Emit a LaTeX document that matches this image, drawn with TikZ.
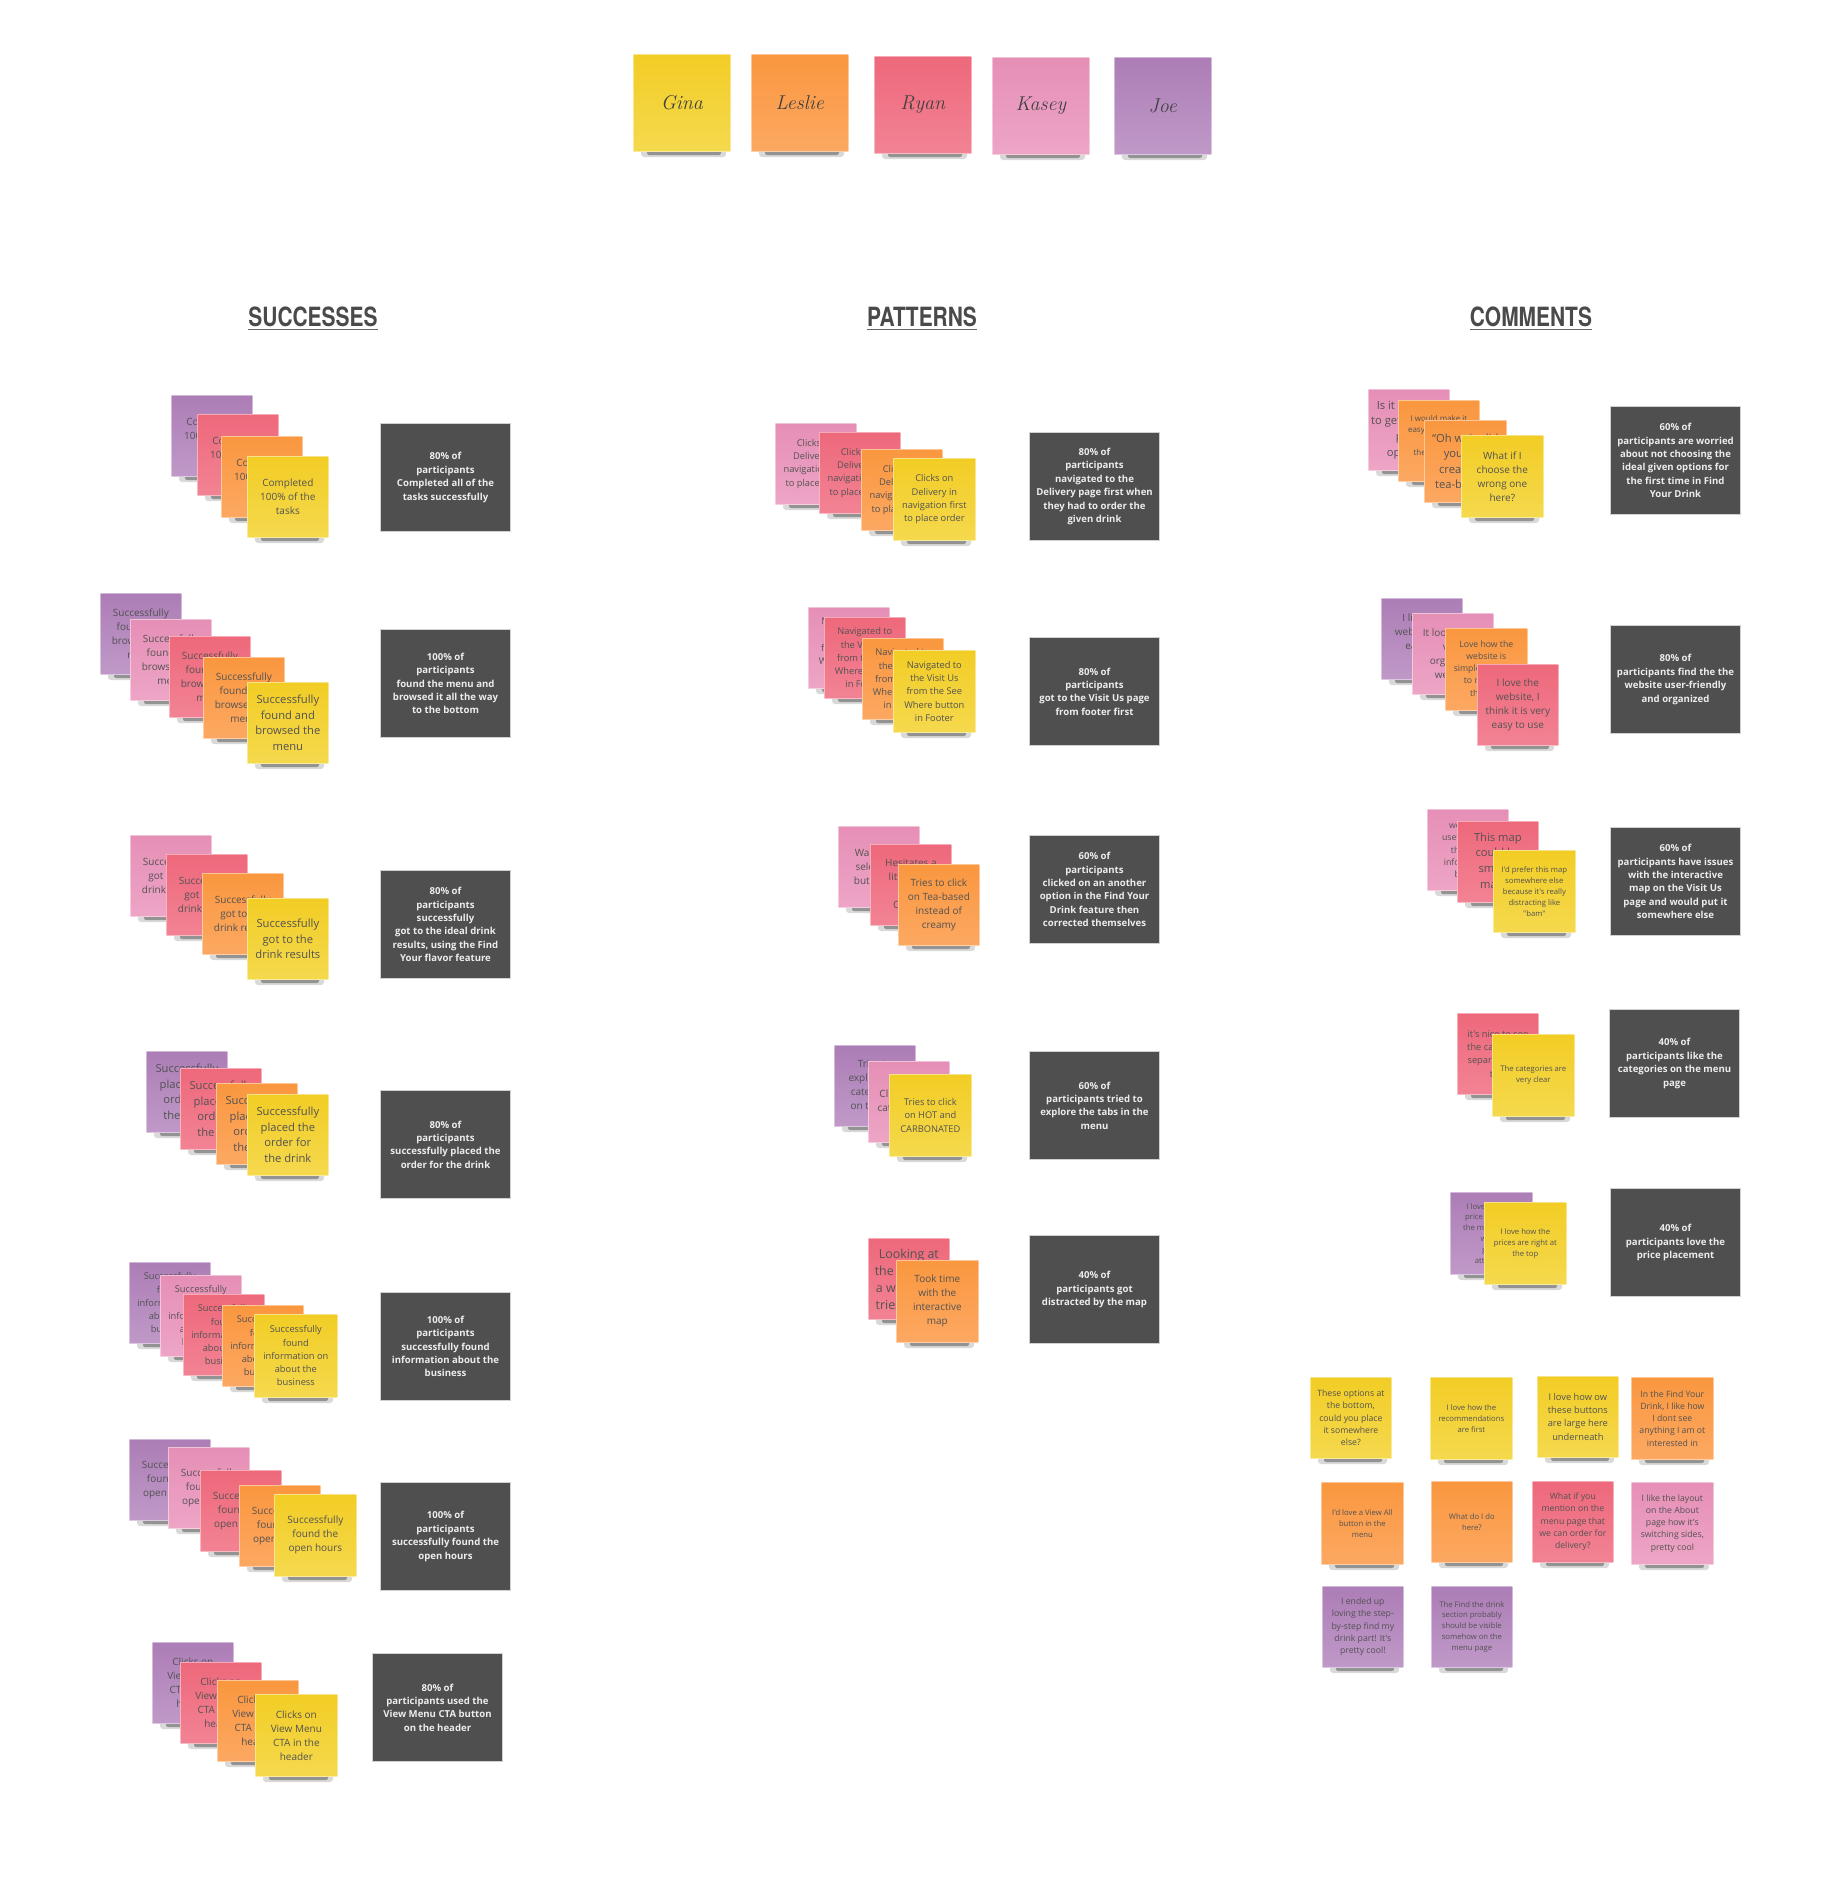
\documentclass[tikz,border=0pt]{standalone}
\usepackage{fontspec}
\newfontfamily\nf{Open Sans}
\newfontfamily\hf{TeX Gyre Heros}
\definecolor{yelT}{HTML}{F2CD25}
\definecolor{yelB}{HTML}{F5D94E}
\definecolor{orgT}{HTML}{FA973F}
\definecolor{orgB}{HTML}{FCA862}
\definecolor{redT}{HTML}{EE687B}
\definecolor{redB}{HTML}{F28394}
\definecolor{pnkT}{HTML}{E68FB6}
\definecolor{pnkB}{HTML}{EDA5C6}
\definecolor{vioT}{HTML}{AC7DB6}
\definecolor{vioB}{HTML}{C099C8}
\definecolor{darkc}{HTML}{4F4F4F}
\definecolor{hdrc}{HTML}{4A4A4A}
\tikzset{
  stkbox/.style={anchor=north west, inner sep=1pt, align=center, text=black!68,
    draw=white, draw opacity=0.45, line width=0.7pt},
  cY/.style={top color=yelT, bottom color=yelB},
  cO/.style={top color=orgT, bottom color=orgB},
  cR/.style={top color=redT, bottom color=redB},
  cP/.style={top color=pnkT, bottom color=pnkB},
  cV/.style={top color=vioT, bottom color=vioB},
  fA/.style={font=\nf\fontsize{10}{14}\selectfont},
  fB/.style={font=\nf\fontsize{11.2}{15.6}\selectfont},
  fM/.style={font=\nf\fontsize{9.3}{13.2}\selectfont},
  fS/.style={font=\nf\fontsize{8.7}{12.3}\selectfont},
  fC/.style={font=\nf\fontsize{8}{11.3}\selectfont},
  fX/.style={font=\nf\fontsize{7.7}{10.9}\selectfont},
  fL/.style={font=\nf\fontsize{12.4}{17}\selectfont},
  fN/.style={font=\rmfamily\itshape\fontsize{20}{24}\selectfont, text=black!75},
  shadowA/.style={fill=black, opacity=0.15, rounded corners=3pt},
  shadowB/.style={fill=black, opacity=0.32, rounded corners=2pt},
  darkbox/.style={anchor=north west, fill=darkc, draw=black!18, line width=1pt,
    minimum width=130pt, minimum height=108pt, align=center, inner sep=0pt,
    text=white!93!black, font=\nf\bfseries\fontsize{9.6}{13.4}\selectfont},
  hdr/.style={anchor=base, inner sep=0pt, text=hdrc,
    font=\hf\bfseries\fontsize{26.5}{30}\selectfont},
  hline/.style={draw=hdrc!85, line width=1.8pt}
}
% #1 size, #2 name, #3 x, #4 y, #5 colour, #6 font, #7 text
\newcommand\stk[7][81]{%
  \fill[shadowA] (#3+8,#4+#1-5) rectangle (#3+#1-4,#4+#1+6);
  \fill[shadowB] (#3+14,#4+#1-4) rectangle (#3+#1-9,#4+#1+4);
  \node[stkbox,#5,#6,minimum width=#1pt,minimum height=#1pt] (#2) at (#3,#4) {#7};}
\newcommand\dbx[4]{\node[darkbox] (#1) at (#2,#3) {#4};}
\newcommand\hdrnode[4]{%
  \node[hdr] (#1) at (#2,#3) {\scalebox{0.79}[1]{#4}};
  \draw[hline] ([yshift=-3.5pt]#1.base west) -- ([yshift=-3.5pt]#1.base east);}

\begin{document}
\begin{tikzpicture}[x=1pt,y=-1pt]
\useasboundingbox (0,0) rectangle (1836,1880);
\fill[white] (0,0) rectangle (1836,1880);

% ---------- names ----------
\stk[97]{nGina}{633}{54}{cY}{fN}{Gina}
\stk[97]{nLeslie}{751}{54}{cO}{fN}{Leslie}
\stk[97]{nRyan}{874}{56}{cR}{fN}{Ryan}
\stk[97]{nKasey}{992}{57}{cP}{fN}{Kasey}
\stk[97]{nJoe}{1114}{57}{cV}{fN}{Joe}

% ---------- headers ----------
\hdrnode{hS}{313}{326}{SUCCESSES}
\hdrnode{hP}{922}{326}{PATTERNS}
\hdrnode{hC}{1531}{326}{COMMENTS}

% ---------- SUCCESSES ----------
\stk{s1a}{171}{395}{cV}{fA}{Completed\\100\% of the\\tasks}
\stk{s1b}{197}{414}{cR}{fA}{Completed\\100\% of the\\tasks}
\stk{s1c}{221}{436}{cO}{fA}{Completed\\100\% of the\\tasks}
\stk{s1d}{247}{456}{cY}{fA}{Completed\\100\% of the\\tasks}
\dbx{d1}{380}{423}{80\% of\\participants\\Completed all of the\\tasks successfully}

\stk{s2a}{100}{593}{cV}{fA}{Successfully\\found and\\browsed the\\menu}
\stk{s2b}{130}{619}{cP}{fA}{Successfully\\found and\\browsed the\\menu}
\stk{s2c}{169}{636}{cR}{fA}{Successfully\\found and\\browsed the\\menu}
\stk{s2d}{203}{657}{cO}{fA}{Successfully\\found and\\browsed the\\menu}
\stk{s2e}{247}{682}{cY}{fB}{Successfully\\found and\\browsed the\\menu}
\dbx{d2}{380}{629}{100\% of\\participants\\found the menu and\\browsed it all the way\\to the bottom}

\stk{s3a}{130}{835}{cP}{fA}{Successfully\\got to the\\drink results}
\stk{s3b}{166}{854}{cR}{fA}{Successfully\\got to the\\drink results}
\stk{s3c}{202}{873}{cO}{fA}{Successfully\\got to the\\drink results}
\stk{s3d}{247}{898}{cY}{fB}{Successfully\\got to the\\drink results}
\dbx{d3}{380}{870}{80\% of\\participants\\successfully\\got to the ideal drink\\results, using the Find\\Your flavor feature}

\stk{s4a}{146}{1051}{cV}{fB}{Successfully\\placed the\\order for\\the drink}
\stk{s4b}{180}{1068}{cR}{fB}{Successfully\\placed the\\order for\\the drink}
\stk{s4c}{216}{1083}{cO}{fB}{Successfully\\placed the\\order for\\the drink}
\stk{s4d}{247}{1094}{cY}{fB}{Successfully\\placed the\\order for\\the drink}
\dbx{d4}{380}{1090}{80\% of\\participants\\successfully placed the\\order for the drink}

\stk{s5a}{129}{1262}{cV}{fM}{Successfully\\found\\information on\\about the\\business}
\stk{s5b}{160}{1275}{cP}{fM}{Successfully\\found\\information on\\about the\\business}
\stk{s5c}{183}{1294}{cR}{fM}{Successfully\\found\\information on\\about the\\business}
\stk{s5d}{222}{1305}{cO}{fM}{Successfully\\found\\information on\\about the\\business}
\stk[83]{s5e}{254}{1314}{cY}{fM}{Successfully\\found\\information on\\about the\\business}
\dbx{d5}{380}{1292}{100\% of\\participants\\successfully found\\information about the\\business}

\stk{s6a}{129}{1439}{cV}{fA}{Successfully\\found the\\open hours}
\stk{s6b}{168}{1447}{cP}{fA}{Successfully\\found the\\open hours}
\stk{s6c}{200}{1470}{cR}{fA}{Successfully\\found the\\open hours}
\stk{s6d}{239}{1485}{cO}{fA}{Successfully\\found the\\open hours}
\stk[82]{s6e}{274}{1494}{cY}{fA}{Successfully\\found the\\open hours}
\dbx{d6}{380}{1482}{100\% of\\participants\\successfully found the\\open hours}

\stk{s7a}{152}{1642}{cV}{fA}{Clicks on\\View Menu\\CTA in the\\header}
\stk{s7b}{180}{1662}{cR}{fA}{Clicks on\\View Menu\\CTA in the\\header}
\stk{s7c}{217}{1680}{cO}{fA}{Clicks on\\View Menu\\CTA in the\\header}
\stk[82]{s7d}{255}{1694}{cY}{fA}{Clicks on\\View Menu\\CTA in the\\header}
\dbx{d7}{372}{1653}{80\% of\\participants used the\\View Menu CTA button\\on the header}

% ---------- PATTERNS ----------
\stk{p1a}{775}{423}{cP}{fM}{Clicks on\\Delivery in\\navigation first\\to place order}
\stk{p1b}{819}{432}{cR}{fM}{Clicks on\\Delivery in\\navigation first\\to place order}
\stk{p1c}{861}{449}{cO}{fM}{Clicks on\\Delivery in\\navigation first\\to place order}
\stk[82]{p1d}{893}{458}{cY}{fM}{Clicks on\\Delivery in\\navigation first\\to place order}
\dbx{dp1}{1029}{432}{80\% of\\participants\\navigated to the\\Delivery page first when\\they had to order the\\given drink}

\stk{p2a}{808}{607}{cP}{fM}{Navigated to\\the Visit Us\\from the See\\Where button\\in Footer}
\stk{p2b}{824}{617}{cR}{fM}{Navigated to\\the Visit Us\\from the See\\Where button\\in Footer}
\stk{p2c}{862}{638}{cO}{fM}{Navigated to\\the Visit Us\\from the See\\Where button\\in Footer}
\stk[82]{p2d}{893}{650}{cY}{fM}{Navigated to\\the Visit Us\\from the See\\Where button\\in Footer}
\dbx{dp2}{1029}{637}{80\% of\\participants\\got to the Visit Us page\\from footer first}

\stk{p3a}{838}{826}{cP}{fA}{Wanted to\\select tea,\\but clicked}
\stk{p3b}{870}{844}{cR}{fA}{Hesitates a\\little then\\clicks\\Creamy}
\stk{p3c}{898}{864}{cO}{fA}{Tries to click\\on Tea-based\\instead of\\creamy}
\dbx{dp3}{1029}{835}{60\% of\\participants\\clicked on an another\\option in the Find Your\\Drink feature then\\corrected themselves}

\stk{p4a}{834}{1045}{cV}{fA}{Tries to\\explore the\\categories\\on the top}
\stk{p4b}{868}{1061}{cP}{fA}{Clicks on the\\category tabs}
\stk[82]{p4c}{889}{1074}{cY}{fM}{Tries to click\\on HOT and\\CARBONATED}
\dbx{dp4}{1029}{1051}{60\% of\\participants tried to\\explore the tabs in the\\menu}

\stk{p5a}{868}{1238}{cR}{fL}{Looking at\\the map for\\a while and\\tries to find}
\stk[82]{p5b}{896}{1260}{cO}{fA}{Took time\\with the\\interactive\\map}
\dbx{dp5}{1029}{1235}{40\% of\\participants got\\distracted by the map}

% ---------- COMMENTS ----------
\stk{c1a}{1368}{389}{cP}{fB}{Is it possible\\to get the best\\price\\options?}
\stk{c1b}{1398}{400}{cO}{fC}{I would make it\\easy to compare\\all of\\them before I\\choose}
\stk[82]{c1c}{1424}{420}{cO}{fB}{“Oh wait, did\\you pick\\creamy or\\tea-based?”}
\stk[82]{c1d}{1461}{435}{cY}{fA}{What if I\\choose the\\wrong one\\here?}
\dbx{dc1}{1610}{406}{60\% of\\participants are worried\\about not choosing the\\ideal given options for\\the first time in Find\\Your Drink}

\stk{c2a}{1381}{598}{cV}{fA}{I like the\\website, it's\\easy to\\use}
\stk{c2b}{1412}{613}{cP}{fA}{It looks like a\\very\\organized\\website}
\stk[82]{c2c}{1445}{628}{cO}{fS}{Love how the\\website is\\simple and easy\\to navigate\\through}
\stk{c2d}{1477}{664}{cR}{fA}{I love the\\website, I\\think it is very\\easy to use}
\dbx{dc2}{1610}{625}{80\% of\\participants find the the\\website user-friendly\\and organized}

\stk{c3a}{1427}{809}{cP}{fS}{would be\\useful to see\\the map\\information\\before}
\stk{c3b}{1457}{821}{cR}{fB}{This map\\could be\\smaller\\maybe}
\stk[82]{c3c}{1493}{850}{cY}{fX}{I'd prefer this map\\somewhere else\\because it's really\\distracting like\\"bam"}
\dbx{dc3}{1610}{827}{60\% of\\participants have issues\\with the interactive\\map on the Visit Us\\page and would put it\\somewhere else}

\stk{c4a}{1457}{1013}{cR}{fM}{it's nice to see\\the categories\\separated like\\this}
\stk[82]{c4b}{1492}{1034}{cY}{fX}{The categories are\\very clear}
\dbx{dc4}{1609}{1009}{40\% of\\participants like the\\categories on the menu\\page}

\stk[82]{c5a}{1450}{1192}{cV}{fX}{I love how the\\price is next to\\the menu items\\with a\\great\\attention}
\stk[82]{c5b}{1484}{1202}{cY}{fX}{I love how the\\prices are right at\\the top}
\dbx{dc5}{1610}{1188}{40\% of\\participants love the\\price placement}

% ---------- loose comments ----------
\stk{g1}{1310}{1377}{cY}{fS}{These options at\\the bottom,\\could you place\\it somewhere\\else?}
\stk[82]{g2}{1430}{1377}{cY}{fX}{I love how the\\recommendations\\are first}
\stk{g3}{1537}{1376}{cY}{fM}{I love how ow\\these buttons\\are large here\\underneath}
\stk[82]{g4}{1631}{1377}{cO}{fS}{In the Find Your\\Drink, I like how\\I dont see\\anything I am ot\\interested in}
\stk[82]{g5}{1321}{1482}{cO}{fX}{I'd love a View All\\button in the\\menu}
\stk{g6}{1431}{1481}{cO}{fX}{What do I do\\here?}
\stk{g7}{1532}{1481}{cR}{fS}{What if you\\mention on the\\menu page that\\we can order for\\delivery?}
\stk[82]{g8}{1631}{1482}{cP}{fS}{I like the layout\\on the About\\page how it's\\switching sides,\\pretty cool}
\stk{g9}{1322}{1586}{cV}{fS}{I ended up\\loving the step-\\by-step find my\\drink part! It's\\pretty cool!}
\stk{g10}{1431}{1586}{cV}{fX}{The Find the drink\\section probably\\should be visible\\somehow on the\\menu page}
\end{tikzpicture}
\end{document}
